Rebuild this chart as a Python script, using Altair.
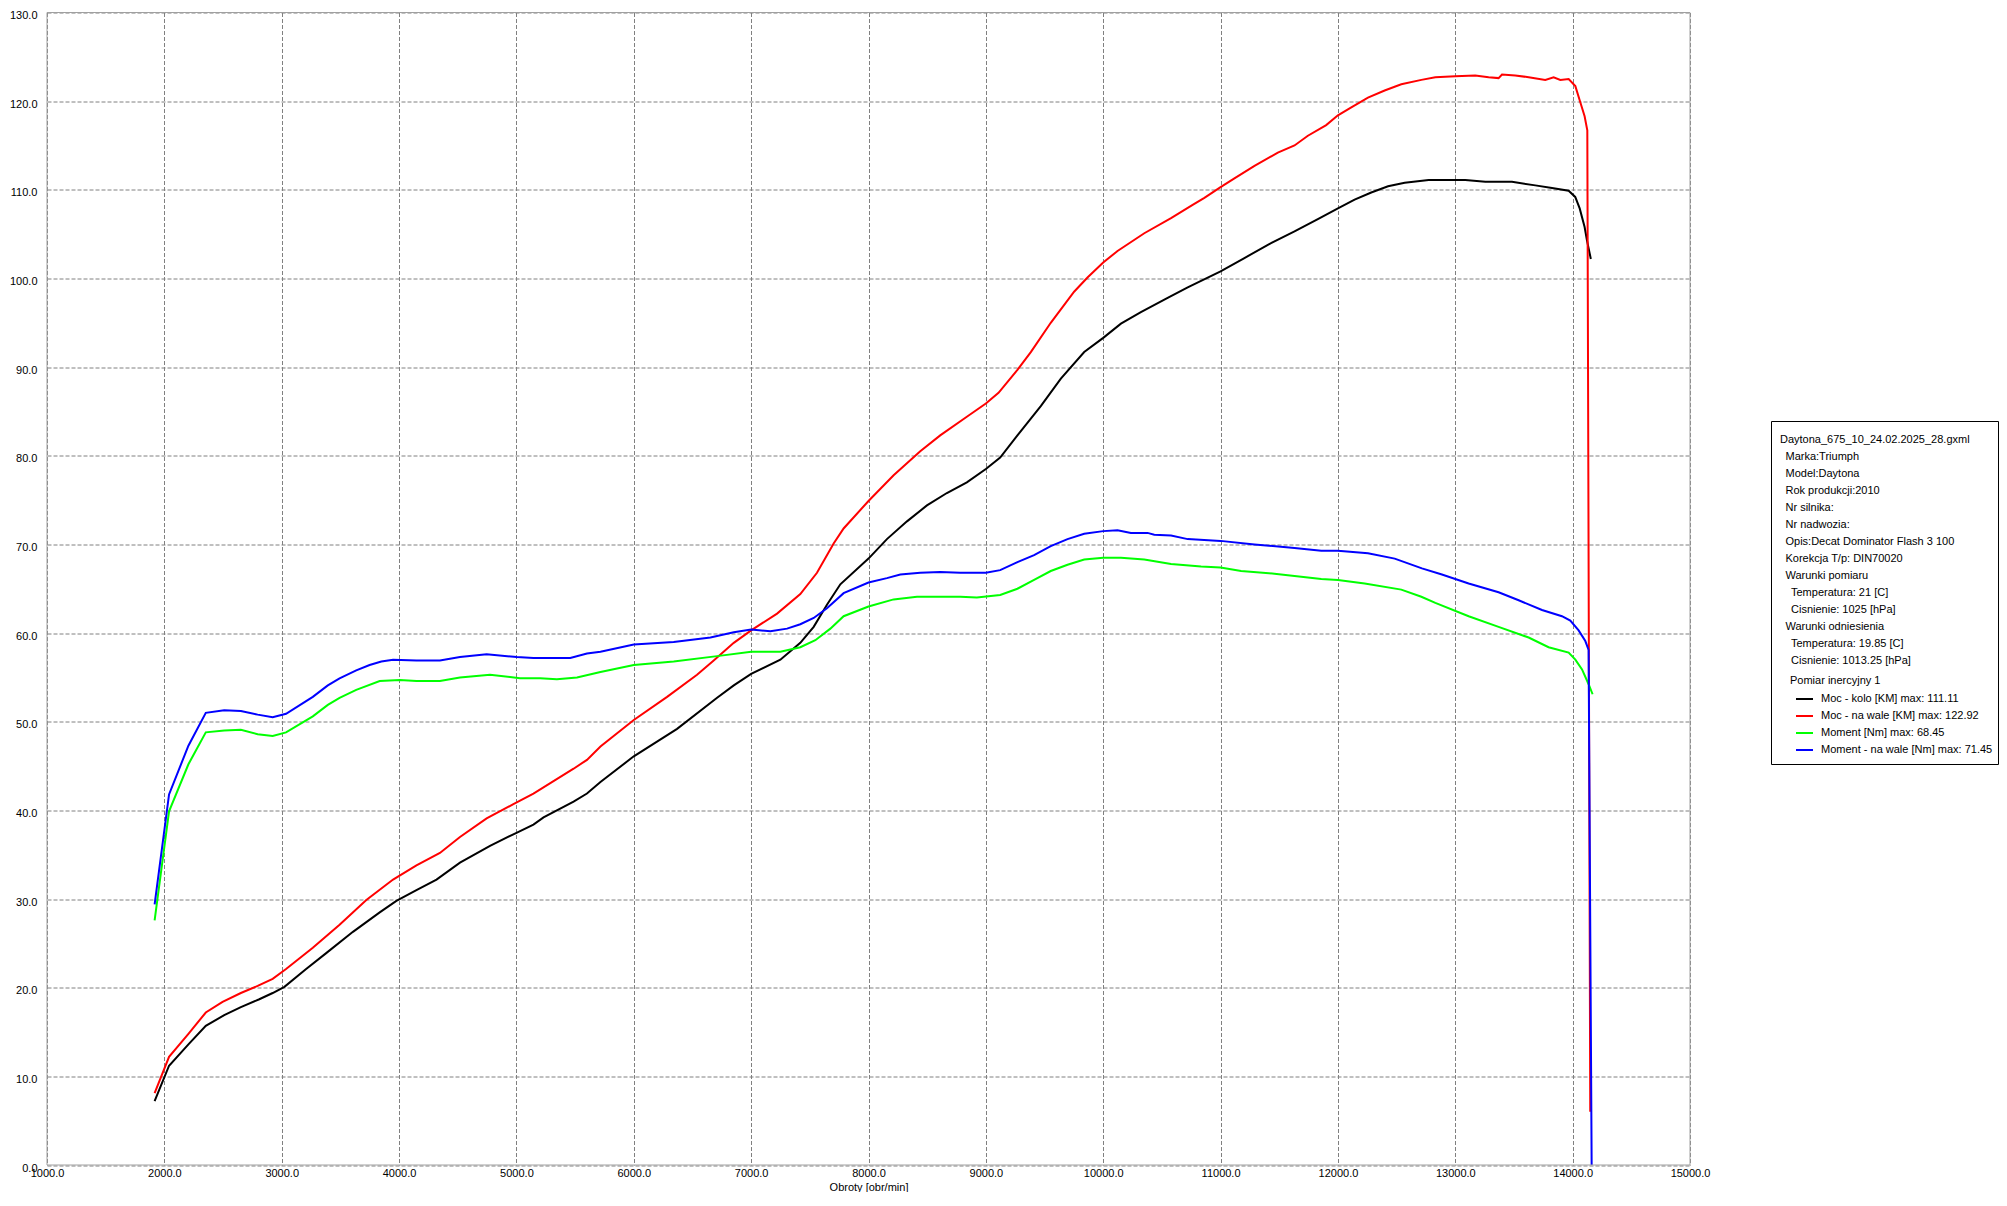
import altair as alt
import pandas as pd

# ---------------- data ----------------
series_names = [
    "Moc - kolo [KM] max: 111.11",
    "Moc - na wale [KM] max: 122.92",
    "Moment [Nm] max: 68.45",
    "Moment - na wale [Nm] max: 71.45",
]
series_colors = ["#000000", "#ff0000", "#00ff00", "#0000ff"]

rpm_kolo = [1917, 2040, 2205, 2353, 2510, 2652, 2809, 2923, 3023, 3208,
            3379, 3607, 3835, 3977, 4148, 4319, 4519, 4775, 4974, 5145,
            5231, 5487, 5601, 5716, 6000, 6369, 6710, 6852, 7000, 7249,
            7419, 7533, 7646, 7760, 8000, 8157, 8328, 8498, 8668, 8838,
            9000, 9122, 9269, 9468, 9639, 9838, 10000, 10151, 10321, 10549,
            10720, 11000, 11203, 11403, 11630, 11829, 12000, 12142, 12284, 12427,
            12569, 12773, 13085, 13256, 13483, 13682, 13824, 13966, 14022, 14060,
            14102, 14122, 14155]
moc_kolo = [7.2, 11.2, 13.6, 15.7, 16.9, 17.8, 18.7, 19.4, 20.1, 22.1,
            23.9, 26.3, 28.5, 29.8, 31.0, 32.2, 34.1, 36.0, 37.3, 38.4,
            39.2, 41.0, 41.9, 43.2, 46.1, 49.2, 52.7, 54.1, 55.4, 57.0,
            58.9, 60.7, 63.2, 65.5, 68.4, 70.6, 72.6, 74.4, 75.8, 77.0,
            78.5, 79.8, 82.3, 85.6, 88.7, 91.7, 93.3, 94.9, 96.2, 97.8,
            99.0, 100.8, 102.3, 103.8, 105.3, 106.7, 107.9, 108.9, 109.7, 110.4,
            110.8, 111.1, 111.1, 110.9, 110.9, 110.5, 110.2, 109.9, 109.2, 107.9,
            105.8, 104.3, 102.2]

rpm_wal = [1917, 2040, 2205, 2353, 2496, 2652, 2795, 2923, 3037, 3265,
           3493, 3721, 3949, 4148, 4348, 4519, 4746, 4974, 5145, 5316,
           5487, 5601, 5716, 6000, 6284, 6539, 6681, 6852, 7000, 7221,
           7419, 7561, 7703, 7788, 8000, 8214, 8441, 8611, 8838, 9000,
           9108, 9269, 9383, 9553, 9752, 9866, 10000, 10122, 10350, 10578,
           10762, 10862, 11000, 11118, 11289, 11488, 11630, 11744, 11900, 12000,
           12114, 12256, 12398, 12540, 12711, 12830, 13000, 13170, 13284, 13369,
           13398, 13511, 13625, 13767, 13838, 13895, 13966, 14023, 14060, 14102,
           14125, 14150]
moc_wal = [8.1, 12.2, 14.8, 17.2, 18.4, 19.4, 20.2, 21.0, 22.1, 24.5,
           27.1, 29.9, 32.2, 33.8, 35.2, 37.0, 39.1, 40.7, 41.9, 43.3,
           44.7, 45.7, 47.2, 50.2, 52.8, 55.3, 56.9, 58.9, 60.3, 62.2,
           64.4, 66.8, 70.1, 71.8, 74.9, 77.8, 80.5, 82.3, 84.4, 85.9,
           87.1, 89.7, 91.7, 95.0, 98.5, 100.1, 101.8, 103.1, 105.1, 106.8,
           108.3, 109.1, 110.3, 111.3, 112.7, 114.2, 115.0, 116.1, 117.3, 118.4,
           119.3, 120.4, 121.2, 121.9, 122.4, 122.7, 122.8, 122.9, 122.7, 122.6,
           123.0, 122.9, 122.7, 122.4, 122.7, 122.4, 122.5, 121.7, 120.1, 118.3,
           116.7, 6.0]

rpm_mom = [1917, 2040, 2205, 2353, 2510, 2652, 2795, 2923, 3037, 3265,
           3393, 3493, 3635, 3835, 4006, 4148, 4348, 4519, 4775, 5031,
           5202, 5345, 5516, 5716, 6000, 6340, 6710, 7000, 7249, 7419,
           7547, 7675, 7788, 8000, 8214, 8413, 8782, 8923, 9122, 9269,
           9411, 9553, 9696, 9838, 10000, 10151, 10350, 10578, 10834, 11000,
           11175, 11459, 11858, 12000, 12228, 12540, 12711, 12830, 13114, 13369,
           13625, 13795, 13966, 14023, 14080, 14137, 14170]
moment = [27.6, 39.9, 45.2, 48.8, 49.0, 49.1, 48.6, 48.4, 48.8, 50.6,
          51.9, 52.7, 53.6, 54.6, 54.7, 54.6, 54.6, 55.0, 55.3, 54.9,
          54.9, 54.8, 55.0, 55.6, 56.4, 56.8, 57.4, 57.9, 57.9, 58.4,
          59.2, 60.5, 61.9, 63.0, 63.8, 64.1, 64.1, 64.0, 64.3, 65.0,
          66.0, 67.0, 67.7, 68.3, 68.5, 68.5, 68.3, 67.8, 67.5, 67.4,
          67.0, 66.7, 66.1, 66.0, 65.6, 64.9, 64.1, 63.4, 61.9, 60.7,
          59.5, 58.4, 57.8, 57.0, 55.9, 54.2, 53.1]

rpm_mom_wal = [1917, 2040, 2205, 2353, 2510, 2652, 2795, 2923, 3037, 3265,
               3393, 3493, 3635, 3749, 3849, 3949, 4148, 4348, 4519, 4746,
               5003, 5145, 5459, 5601, 5716, 6000, 6340, 6653, 6852, 7000,
               7164, 7306, 7419, 7533, 7646, 7788, 8000, 8157, 8271, 8441,
               8611, 8782, 9000, 9122, 9269, 9411, 9553, 9696, 9838, 10000,
               10122, 10236, 10378, 10435, 10578, 10720, 11000, 11289, 11630, 11858,
               12000, 12256, 12484, 12716, 12886, 13114, 13369, 13540, 13739, 13909,
               13980, 14051, 14108, 14136, 14162]
moment_wal = [29.4, 41.8, 47.3, 51.0, 51.3, 51.2, 50.8, 50.5, 50.9, 52.8,
              54.1, 54.9, 55.8, 56.4, 56.8, 57.0, 56.9, 56.9, 57.3, 57.6,
              57.3, 57.2, 57.2, 57.7, 57.9, 58.7, 59.0, 59.5, 60.1, 60.4,
              60.2, 60.5, 61.0, 61.7, 62.8, 64.5, 65.7, 66.2, 66.6, 66.8,
              66.9, 66.8, 66.8, 67.1, 68.0, 68.8, 69.8, 70.6, 71.2, 71.5,
              71.6, 71.3, 71.3, 71.1, 71.0, 70.6, 70.4, 70.0, 69.6, 69.3,
              69.3, 69.0, 68.4, 67.3, 66.6, 65.6, 64.6, 63.7, 62.6, 61.9,
              61.4, 60.3, 59.1, 58.1, 0.0]

x_ticks = list(range(1000, 15001, 1000))
y_ticks = list(range(0, 131, 10))

# Vega trims leading whitespace, so a zero-width char anchors the indent.
IND1 = "\u200b\u2002"
IND2 = "\u200b\u2002\u2002"
info_lines = [
    "Daytona_675_10_24.02.2025_28.gxml",
    IND1 + "Marka:Triumph",
    IND1 + "Model:Daytona",
    IND1 + "Rok produkcji:2010",
    IND1 + "Nr silnika:",
    IND1 + "Nr nadwozia:",
    IND1 + "Opis:Decat Dominator Flash 3 100",
    IND1 + "Korekcja T/p: DIN70020",
    IND1 + "Warunki pomiaru",
    IND2 + "Temperatura: 21 [C]",
    IND2 + "Cisnienie: 1025 [hPa]",
    IND1 + "Warunki odniesienia",
    IND2 + "Temperatura: 19.85 [C]",
    IND2 + "Cisnienie: 1013.25 [hPa]",
]
legend_title = "Pomiar inercyjny 1"
x_title = "Obroty [obr/min]"

# ---------------- table ----------------
rows = []
for name, xs, ys in zip(series_names,
                        [rpm_kolo, rpm_wal, rpm_mom, rpm_mom_wal],
                        [moc_kolo, moc_wal, moment, moment_wal]):
    for xv, yv in zip(xs, ys):
        rows.append({"series": name, "rpm": xv, "val": yv})
df = pd.DataFrame(rows)

FONT = "Liberation Sans"
W, H = 1643, 1152.5

lines = alt.Chart(df).mark_line(strokeWidth=2).encode(
    x=alt.X("rpm:Q",
            scale=alt.Scale(domain=[1000, 15000], nice=False, zero=False),
            axis=alt.Axis(values=x_ticks, format=".1f", title=x_title,
                          titleY=16, titleBaseline="top",
                          labelPadding=2, labelBaseline="top")),
    y=alt.Y("val:Q",
            scale=alt.Scale(domain=[0, 130], nice=False, zero=False),
            axis=alt.Axis(values=y_ticks, format=".1f", title=None,
                          labelPadding=10, labelBaseline="middle", labelOffset=3)),
    color=alt.Color("series:N",
                    scale=alt.Scale(domain=series_names, range=series_colors),
                    legend=alt.Legend(
                        title=legend_title, orient="none",
                        legendX=1743, legendY=662,
                        titleFont=FONT, titleFontSize=11, titleFontWeight="normal",
                        titleColor="#000000", titlePadding=4, titleLimit=400,
                        labelFont=FONT, labelFontSize=11, labelColor="#000000",
                        labelLimit=400, labelOffset=7,
                        symbolType="stroke", symbolSize=289, symbolStrokeWidth=2,
                        symbolOffset=5, rowPadding=2, padding=0)),
)

frame = alt.Chart(alt.Data(values=[{}])).mark_rect(
    filled=False, stroke="#a0a0a0", strokeWidth=1
).encode(x=alt.value(0), x2=alt.value("width"), y=alt.value(0), y2=alt.value("height"))

box = alt.Chart(alt.Data(values=[{}])).mark_rect(
    fill="#ffffff", stroke="#000000", strokeWidth=1
).encode(x=alt.value(1724.5), x2=alt.value(1951.5), y=alt.value(409), y2=alt.value(752))

info = alt.Chart(alt.Data(values=[{}])).mark_text(
    align="left", baseline="top", lineHeight=17, fontSize=11, font=FONT, color="#000000"
).encode(x=alt.value(1733), y=alt.value(421), text=alt.value(info_lines))

chart = alt.layer(lines, frame, box, info).properties(
    width=W, height=H,
    autosize=alt.AutoSizeParams(type="none"),
    padding={"left": 39, "top": 4.5, "right": 309, "bottom": 27},
    background="#ffffff",
).configure_view(stroke=None).configure_axis(
    grid=True, gridColor="#808080", gridDash=[4, 2], gridWidth=1, gridOpacity=1,
    domain=False, ticks=False, tickSize=0,
    labelFont=FONT, labelFontSize=11, labelColor="#000000",
    labelFlush=False, labelOverlap=False,
    titleFont=FONT, titleFontSize=11, titleFontWeight="normal", titleColor="#000000",
)

chart.save("out.html", embed_options={"renderer": "svg", "actions": False})
